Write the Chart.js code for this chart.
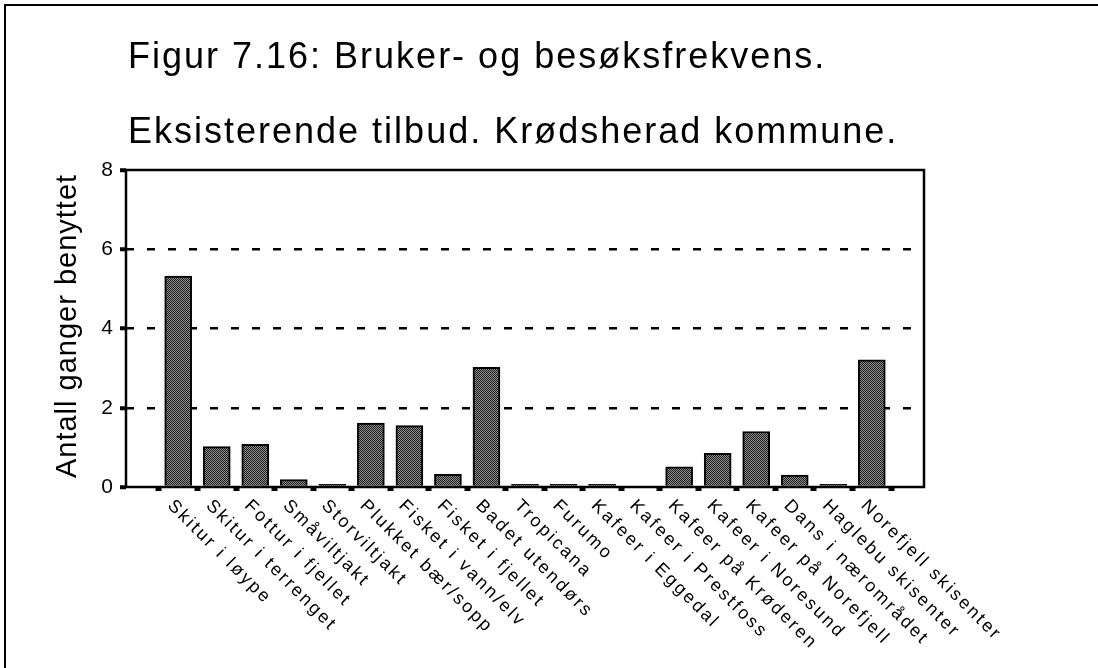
<!DOCTYPE html>
<html>
<head>
<meta charset="utf-8">
<script src="https://cdn.jsdelivr.net/npm/chart.js@4.4.1/dist/chart.umd.min.js"></script>
<style>
html,body{margin:0;padding:0;background:#fff;}
</style>
</head>
<body>
<canvas id="chart" width="1098" height="668"></canvas>
<script>
// chart data
const categories = [
"Skitur i løype",
"Skitur i terrenget",
"Fottur i fjellet",
"Småviltjakt",
"Storviltjakt",
"Plukket bær/sopp",
"Fisket i vann/elv",
"Fisket i fjellet",
"Badet utendørs",
"Tropicana",
"Furumo",
"Kafeer i Eggedal",
"Kafeer i Prestfoss",
"Kafeer på Krøderen",
"Kafeer i Noresund",
"Kafeer på Norefjell",
"Dans i nærområdet",
"Haglebu skisenter",
"Norefjell skisenter"
];

const values = [
5.32, 1.02, 1.08, 0.19, 0.07, 1.61, 1.55, 0.32, 3.02, 0.07,
0.07, 0.07, 0, 0.51, 0.85, 1.40, 0.30, 0.07, 3.21
];

const yTicks = [0, 2, 4, 6, 8];

const titleLines = [
"Figur 7.16: Bruker- og besøksfrekvens.",
"Eksisterende tilbud. Krødsherad kommune."
];

const yTitle = "Antall ganger benyttet";

const FONT = '"Liberation Sans", Arial, Helvetica, sans-serif';

const canvas = document.getElementById("chart");
const ctx = canvas.getContext("2d");

// stippled grey fill like the print
const tile = document.createElement("canvas");
tile.width = 2;
tile.height = 2;
const tctx = tile.getContext("2d");
tctx.fillStyle = "#8c8c8c";
tctx.fillRect(0, 0, 2, 2);
tctx.fillStyle = "#202020";
tctx.fillRect(0, 0, 1, 1);
tctx.fillRect(1, 1, 1, 1);
const barFill = ctx.createPattern(tile, "repeat");

const decor = {
id: "decor",
afterDraw(chart){
const c = chart.ctx;
const a = chart.chartArea;
const xs = chart.scales.x;

c.save();
c.fillStyle = "#000";
c.strokeStyle = "#000";

// outer figure border (top and left only)
c.lineWidth = 2;
c.beginPath();
c.moveTo(5, 668);
c.lineTo(5, 5);
c.lineTo(1098, 5);
c.stroke();

// plot frame
c.lineWidth = 2.5;
c.strokeRect(a.left, a.top, a.right - a.left, a.bottom - a.top);

// titles
c.font = "36px " + FONT;
c.textAlign = "left";
c.textBaseline = "alphabetic";
c.letterSpacing = "2px";
c.fillText(titleLines[0], 128, 68);
c.fillText(titleLines[1], 128, 143);

// y axis title
c.save();
c.font = "29px " + FONT;
c.letterSpacing = "1px";
c.translate(68, 326);
c.rotate(-Math.PI / 2);
c.textAlign = "center";
c.textBaseline = "middle";
c.fillText(yTitle, 0, 0);
c.restore();

// rotated category labels
c.font = "18px " + FONT;
c.letterSpacing = "2.5px";
c.textAlign = "left";
c.textBaseline = "middle";
categories.forEach((label, i) => {
const px = xs.getPixelForValue(i);
c.save();
c.translate(px - 8, a.bottom + 16);
c.rotate(Math.PI / 4);
c.fillText(label, 0, 0);
c.restore();
});

c.restore();
}
};

const chart = new Chart(ctx, {
type: "bar",
data: {
datasets: [{
data: values.map((v, i) => ({x: i, y: v})),
backgroundColor: barFill,
borderColor: "#000",
borderWidth: 2,
borderSkipped: "bottom",
barThickness: 27
}]
},
options: {
responsive: false,
animation: false,
events: [],
layout: {
padding: {left: 66, right: 174, top: 170, bottom: 161}
},
plugins: {
legend: {display: false},
tooltip: {enabled: false}
},
scales: {
x: {
type: "linear",
min: -0.81,
max: 18.81,
afterBuildTicks: s => {
s.ticks = categories.map((c, i) => ({value: i}));
},
afterFit: s => { s.height = 20; },
ticks: {display: false},
grid: {
drawOnChartArea: false,
drawTicks: true,
tickLength: 4,
tickWidth: 6,
tickColor: "#000"
},
border: {display: false}
},
y: {
min: 0,
max: 8,
afterBuildTicks: s => {
s.ticks = yTicks.map(v => ({value: v}));
},
afterFit: s => { s.width = 60; },
ticks: {
color: "#000",
padding: 7,
font: {family: FONT, size: 21}
},
grid: {
color: c => (c.tick && c.tick.value > 0 && c.tick.value < 8) ? "#000" : "rgba(0,0,0,0)",
lineWidth: 2.5,
tickColor: "#000",
tickLength: 6,
tickWidth: 4
},
border: {display: false, dash: [8, 13]}
}
}
},
plugins: [decor]
});
</script>
</body>
</html>
